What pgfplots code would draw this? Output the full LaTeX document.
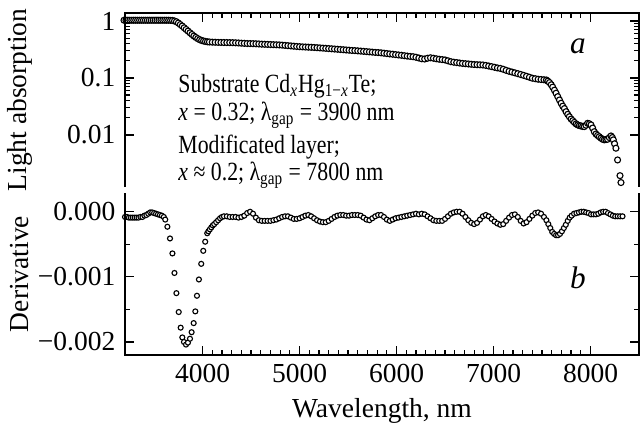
\documentclass[border=0pt]{standalone}
\usepackage{fontspec}
\setmainfont{Liberation Serif}
\usepackage{pgfplots}
\pgfplotsset{compat=1.18}

\begin{document}
\fontsize{11}{13}\selectfont
\begin{tikzpicture}
\pgfplotsset{
  panel/.style={
    scale only axis, width=205.6pt,
    xmin=3200, xmax=8500,
    xtick={4000,5000,6000,7000,8000},
    minor x tick num=9,
    axis line style={draw=none},
    tick style={black, line width=0.5pt},
    major tick length=3.6pt, minor tick length=1.9pt,
    clip=false,
    /pgf/number format/assume math mode=true,
    /pgf/number format/1000 sep={},
    font=\fontsize{11}{13}\selectfont,
    scaled y ticks=false,
  },
  dots/.style={only marks, mark=*, mark size=#1,
    mark options={fill=white, draw=black, line width=0.45pt}},
}
\tikzset{
  note/.style={anchor=base west, inner sep=0pt, xscale=0.83, transform shape,
    font=\fontsize{10.5}{12}\selectfont},
}

%% ---- bottom panel: derivative ----
\begin{axis}[panel, name=bot,
  height=64.8pt,
  ymin=-0.0022, ymax=0.000288,
  ytick={-0.002,-0.001,0},
  yticklabels={−0.002,−0.001,0.000},
  minor y tick num=1,
  xtick pos=left, ytick pos=both,
]
\addplot[dots=1pt] coordinates {
(3200,-0.00008)(3220,-0.00008)(3240,-0.00009)(3260,-0.00009)(3280,-0.00009)(3300,-0.00009)
(3320,-0.00009)(3340,-0.00009)(3360,-0.00008)(3380,-0.00008)(3400,-0.00006)(3420,-0.00005)
(3440,-0.00003)(3460,-0.00001)(3480,-0.00001)(3500,-0.00002)(3520,-0.00003)(3540,-0.00004)
(3560,-0.00005)(3580,-0.00006)(3600,-0.00008)(3615,-0.00012)(3637,-0.00023)(3664,-0.00041)
(3689,-0.00064)(3710,-0.00094)(3730,-0.00125)(3754,-0.00154)(3774,-0.00178)(3791,-0.00193)
(3808,-0.00200)(3829,-0.00204)(3849,-0.00201)(3870,-0.00195)(3887,-0.00185)(3908,-0.00171)
(3925,-0.00153)(3942,-0.00129)(3962,-0.00104)(3986,-0.00080)(4007,-0.00060)(4027,-0.00046)
(4048,-0.00033)(4060,-0.00030)(4075,-0.00027)(4090,-0.00024)(4105,-0.00021)(4120,-0.00019)
(4140,-0.00016)(4160,-0.00013)(4180,-0.00010)(4200,-0.00008)(4220,-0.00007)(4250,-0.00007)
(4280,-0.00008)(4310,-0.00008)(4340,-0.00008)(4370,-0.00009)(4400,-0.00008)(4430,-0.00006)
(4460,-0.00002)(4490,0.00000)(4520,-0.00003)(4550,-0.00009)(4580,-0.00013)(4610,-0.00014)
(4640,-0.00014)(4670,-0.00014)(4700,-0.00014)(4730,-0.00013)(4760,-0.00012)(4790,-0.00010)
(4820,-0.00008)(4850,-0.00007)(4880,-0.00007)(4910,-0.00009)(4940,-0.00011)(4970,-0.00011)
(5000,-0.00010)(5030,-0.00008)(5060,-0.00006)(5090,-0.00005)(5120,-0.00007)(5150,-0.00010)
(5180,-0.00013)(5210,-0.00015)(5240,-0.00016)(5270,-0.00016)(5300,-0.00014)(5330,-0.00011)
(5360,-0.00008)(5390,-0.00006)(5420,-0.00005)(5450,-0.00005)(5480,-0.00006)(5510,-0.00006)
(5540,-0.00005)(5570,-0.00005)(5600,-0.00005)(5630,-0.00006)(5660,-0.00009)(5690,-0.00012)
(5720,-0.00013)(5750,-0.00010)(5780,-0.00007)(5810,-0.00005)(5840,-0.00005)(5870,-0.00008)
(5900,-0.00012)(5930,-0.00014)(5960,-0.00012)(5990,-0.00010)(6020,-0.00009)(6050,-0.00008)
(6080,-0.00007)(6110,-0.00006)(6140,-0.00005)(6170,-0.00004)(6200,-0.00003)(6230,-0.00004)
(6260,-0.00003)(6290,-0.00004)(6320,-0.00007)(6350,-0.00010)(6380,-0.00013)(6410,-0.00014)
(6440,-0.00014)(6470,-0.00014)(6500,-0.00011)(6530,-0.00007)(6560,-0.00003)(6590,-0.00001)
(6620,0.00000)(6650,0.00000)(6680,-0.00003)(6710,-0.00008)(6740,-0.00013)(6770,-0.00017)
(6800,-0.00019)(6830,-0.00017)(6860,-0.00012)(6890,-0.00007)(6920,-0.00005)(6950,-0.00007)
(6980,-0.00011)(7010,-0.00015)(7040,-0.00018)(7070,-0.00020)(7100,-0.00019)(7130,-0.00014)
(7160,-0.00009)(7190,-0.00005)(7220,-0.00004)(7250,-0.00008)(7280,-0.00014)(7310,-0.00018)
(7340,-0.00016)(7370,-0.00011)(7400,-0.00006)(7430,-0.00002)(7460,-0.00001)(7490,-0.00003)
(7520,-0.00008)(7545,-0.00013)(7565,-0.00019)(7585,-0.00025)(7605,-0.00031)(7625,-0.00034)
(7645,-0.00036)(7665,-0.00036)(7685,-0.00034)(7705,-0.00030)(7725,-0.00025)(7745,-0.00020)
(7765,-0.00014)(7785,-0.00009)(7805,-0.00006)(7830,-0.00003)(7855,-0.00002)(7880,-0.00001)
(7905,0.00000)(7930,0.00000)(7955,-0.00001)(7980,-0.00002)(8005,-0.00004)(8030,-0.00004)
(8055,-0.00004)(8080,-0.00003)(8105,-0.00001)(8130,0.00000)(8155,0.00000)(8180,-0.00002)
(8205,-0.00004)(8230,-0.00006)(8255,-0.00007)(8280,-0.00007)(8305,-0.00007)(8330,-0.00007)
};
\end{axis}

%% ---- top panel: light absorption (log) ----
\begin{axis}[panel, name=top,
  at={(0,67.2pt)},
  height=69.6pt,
  ymode=log, ymin=0.00122, ymax=1.38,
  ytick={0.01,0.1,1},
  yticklabels={0.01,0.1,1},
  xtick pos=right, ytick pos=both,
  xticklabels={},
]
\addplot[dots=1.2pt] coordinates {
(3190,1.03)(3210,1.03)(3230,1.03)(3250,1.03)(3270,1.03)(3290,1.03)(3310,1.03)(3330,1.03)
(3350,1.03)(3370,1.03)(3390,1.03)(3410,1.03)(3430,1.03)(3450,1.03)(3470,1.03)(3490,1.03)
(3510,1.03)(3530,1.03)(3550,1.03)(3570,1.03)(3590,1.03)(3610,1.03)(3630,1.03)(3650,1.03)
(3670,1.025)(3690,1.02)(3710,1.0)(3730,0.97)(3750,0.92)(3770,0.865)(3790,0.815)(3810,0.76)
(3830,0.71)(3850,0.665)(3870,0.62)(3890,0.58)(3910,0.545)(3930,0.515)(3950,0.49)(3970,0.47)
(3990,0.455)(4010,0.445)(4030,0.437)(4050,0.431)(4070,0.428)
(4100,0.425)(4130,0.423)(4160,0.421)(4190,0.420)(4220,0.419)(4250,0.418)(4280,0.417)
(4310,0.416)(4340,0.414)(4370,0.411)(4400,0.408)(4430,0.405)(4460,0.402)(4490,0.401)
(4520,0.400)(4550,0.398)(4580,0.395)(4610,0.392)(4640,0.390)(4670,0.388)(4700,0.386)
(4730,0.384)(4760,0.382)(4790,0.380)(4820,0.377)(4850,0.373)(4880,0.369)(4910,0.365)
(4940,0.361)(4970,0.357)(5000,0.354)(5030,0.351)(5060,0.349)(5090,0.347)(5120,0.345)
(5150,0.343)(5180,0.340)(5210,0.337)(5240,0.334)(5270,0.331)(5300,0.328)(5330,0.325)
(5360,0.322)(5390,0.319)(5420,0.316)(5450,0.313)(5480,0.310)(5510,0.307)(5540,0.304)
(5570,0.302)(5600,0.299)(5630,0.296)(5660,0.293)(5690,0.290)(5720,0.287)(5750,0.284)
(5780,0.281)(5810,0.279)(5840,0.276)(5870,0.272)(5900,0.268)(5930,0.264)(5960,0.261)
(5990,0.257)(6020,0.253)(6050,0.250)(6080,0.246)(6110,0.242)(6140,0.239)(6170,0.236)
(6200,0.231)(6230,0.224)(6260,0.217)(6290,0.215)(6320,0.222)(6350,0.226)(6380,0.222)
(6410,0.217)(6440,0.213)(6470,0.210)(6500,0.207)(6530,0.200)(6560,0.193)(6590,0.189)
(6620,0.186)(6650,0.183)(6680,0.180)(6710,0.178)(6740,0.176)(6770,0.174)(6800,0.172)
(6830,0.171)(6860,0.170)(6890,0.169)(6920,0.166)(6950,0.162)(6980,0.158)(7010,0.154)
(7040,0.150)(7070,0.147)(7100,0.142)(7130,0.136)(7160,0.131)(7190,0.127)(7220,0.123)
(7250,0.119)(7280,0.115)(7310,0.111)(7340,0.107)(7370,0.103)(7400,0.099)(7430,0.097)
(7460,0.095)(7490,0.094)(7520,0.093)(7545,0.092)(7560,0.088)(7577,0.083)(7595,0.076)
(7610,0.069)(7628,0.061)(7645,0.054)(7662,0.047)(7680,0.041)(7697,0.036)(7714,0.032)
(7731,0.029)(7748,0.0256)(7765,0.023)(7782,0.0209)(7800,0.019)(7817,0.0178)(7834,0.0166)
(7851,0.0156)(7868,0.0150)(7885,0.0146)(7902,0.0144)(7919,0.0141)(7936,0.0140)(7953,0.0148)
(7970,0.0160)(7988,0.0157)(8005,0.0150)(8022,0.0132)(8039,0.0114)(8056,0.0104)(8073,0.0098)
(8090,0.0093)(8107,0.0088)(8124,0.0084)(8142,0.0082)(8159,0.0083)(8176,0.0084)(8194,0.0090)
(8211,0.0096)(8225,0.0090)(8235,0.0082)(8248,0.0070)(8262,0.00585)(8279,0.00364)
(8304,0.00193)(8314,0.00146)
};
\end{axis}

% frames: no line between the two panels
\draw[line width=0.8pt] (top.south west) -- (top.north west) -- (top.north east) -- (top.south east);
\draw[line width=0.8pt] (bot.north west) -- (bot.south west) -- (bot.south east) -- (bot.north east);

% axis titles
\node[rotate=90] at (-42pt,102pt) {Light absorption};
\node[rotate=90] at (-42pt,32.4pt) {Derivative};
\node[anchor=base] at (102.8pt,-25pt) {Wavelength, nm};

% annotation
\node[note] at (21.2pt,104.9pt) {Substrate Cd\textsubscript{\textit{x}}Hg\textsubscript{1−\textit{x}}Te;};
\node[note] at (21.2pt,94pt) {\textit{x} = 0.32; λ\textsubscript{gap} = 3900 nm};
\node[note] at (21.2pt,80.8pt) {Modificated layer;};
\node[note] at (21.2pt,70pt) {\textit{x} ≈ 0.2; λ\textsubscript{gap} = 7800 nm};

\node[anchor=base, font=\itshape\fontsize{12.5}{14}\selectfont] at (181.2pt,120.8pt) {a};
\node[anchor=base, font=\itshape\fontsize{12.5}{14}\selectfont] at (181.2pt,26.8pt) {b};

\pgfresetboundingbox
\useasboundingbox (-50pt,-27.2pt) rectangle (206.4pt,142pt);
\end{tikzpicture}
\end{document}
